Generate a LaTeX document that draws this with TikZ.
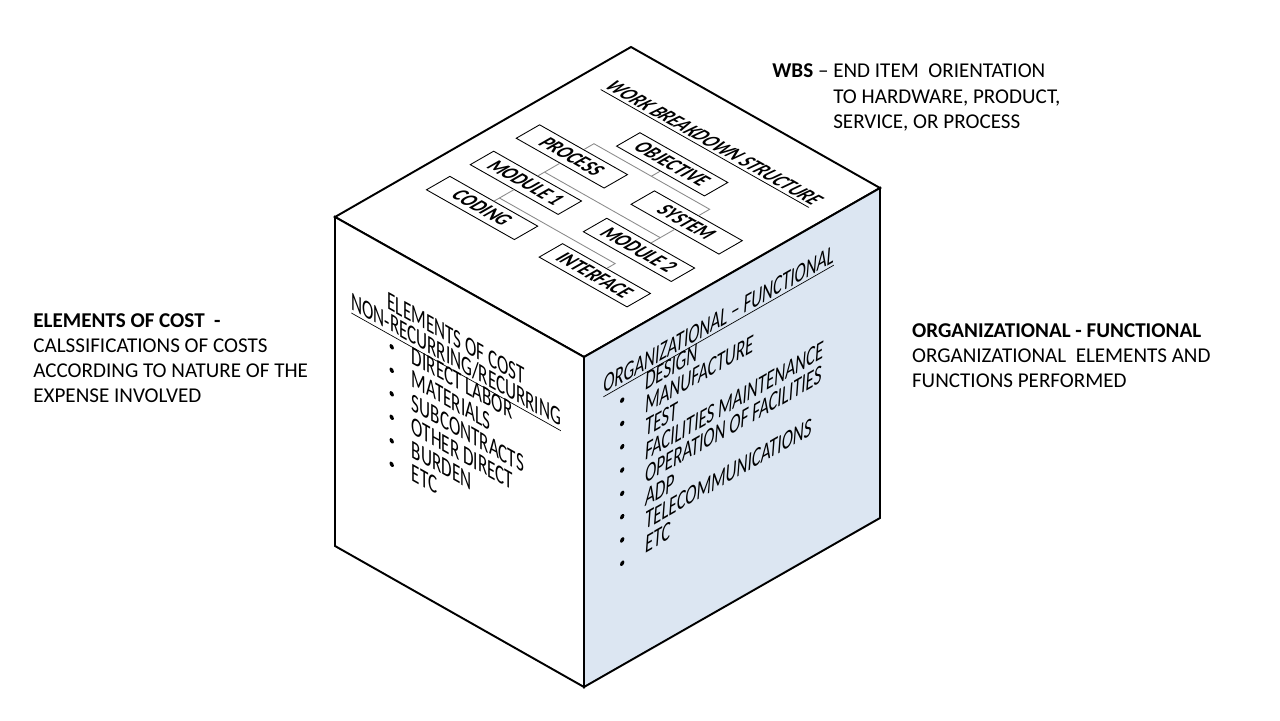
\documentclass[tikz,border=0pt]{standalone}
\usepackage{fontspec}
\setmainfont{Carlito}
\usepackage{xcolor}
\usepackage{tikz}
\usetikzlibrary{positioning}

\definecolor{faceblue}{RGB}{220,230,242}
\definecolor{linkgray}{RGB}{140,140,140}

\begin{document}
\begin{tikzpicture}[x=0.02cm, y=0.02cm,
    cubeedge/.style={line width=1.1pt, line join=miter},
    wbsbox/.style={draw, line width=0.5pt, fill=white, transform shape,
      yscale=1.3, minimum width=2.02cm, minimum height=0.415cm, inner sep=0pt,
      font=\fontsize{10}{12}\selectfont\bfseries},
    wbslink/.style={draw=linkgray, line width=0.5pt},
    facetext/.style={inner sep=0pt, transform shape, xscale=0.82, yscale=1.1,
      font=\fontsize{13.6}{14}\selectfont},
    orgtext/.style={facetext, font=\fontsize{13.6}{14}\selectfont\itshape},
    sidetext/.style={inner sep=0pt, align=left, anchor=north west,
      font=\fontsize{12}{14.2}\selectfont}]

  \useasboundingbox (0,0) rectangle (1280,720);

  \coordinate (T) at (631,673);
  \coordinate (R) at (880,532);
  \coordinate (M) at (584,363);
  \coordinate (L) at (335,503);
  \coordinate (LB) at (335,174);
  \coordinate (MB) at (584,33);
  \coordinate (RB) at (880,202);

  \draw[cubeedge, fill=white] (T) -- (R) -- (M) -- (L) -- cycle;
  \draw[cubeedge, fill=white] (L) -- (M) -- (MB) -- (LB) -- cycle;
  \draw[cubeedge, fill=faceblue] (M) -- (R) -- (RB) -- (MB) -- cycle;

  % top face
  \begin{scope}[cm={0.870,-0.493,0.867,0.498,(T)}]
    \node[inner sep=0pt, anchor=base, transform shape, yscale=1.3,
      font=\fontsize{10}{12}\selectfont\bfseries\itshape] (wbstitle) at (145,-57)
      {\underline{WORK BREAKDOWN STRUCTURE}};

    \node[wbsbox] (objective) at (142,-95) {OBJECTIVE};
    \node[wbsbox] (process) at (76,-144.5) {PROCESS};
    \node[wbsbox] (system) at (209,-145.5) {SYSTEM};
    \node[wbsbox] (module1) at (76,-197.5) {MODULE 1};
    \node[wbsbox] (module2) at (209,-200.5) {MODULE 2};
    \node[wbsbox] (coding) at (76,-248) {CODING};
    \node[wbsbox] (interface) at (209,-251.5) {INTERFACE};

    \coordinate (bus1p) at (76,-119);
    \coordinate (bus1o) at (142,-119);
    \coordinate (bus1s) at (209,-119);
    \coordinate (bus2p) at (76,-176);
    \coordinate (bus2s) at (209,-176);
    \coordinate (bus3p) at (76,-228);
    \coordinate (bus3s) at (209,-228);

    \draw[wbslink] (objective.south) -- (bus1o);
    \draw[wbslink] (process.north) -- (bus1p) -- (bus1s) -- (system.north);
    \draw[wbslink] (process.south) -- (module1.north);
    \draw[wbslink] (system.south) -- (module2.north);
    \draw[wbslink] (bus2p) -- (bus2s);
    \draw[wbslink] (module1.south) -- (coding.north);
    \draw[wbslink] (bus3p) -- (bus3s) -- (interface.north);
  \end{scope}

  % left face
  \begin{scope}[cm={0.872,-0.490,0,1,(L)}]
    \node[facetext, anchor=base] (costhead) at (139,-62) {ELEMENTS OF COST};
    \node[facetext, anchor=base] (costsub) at (139,-83)
      {\underline{NON-RECURRING/RECURRING}};
    \foreach \lbl [count=\i from 0] in {DIRECT LABOR, MATERIALS, SUBCONTRACTS,
        OTHER DIRECT, BURDEN, ETC} {
      \node[facetext, anchor=base west] (cost\i) at (88,{-103-23.5*\i}) {\lbl};
      \fill (65,{-98-23.5*\i}) circle (2.5);
    }
  \end{scope}

  % right face
  \begin{scope}[cm={0.868,0.496,0,1,(M)}]
    \node[orgtext, anchor=base west] (orghead) at (22,-48)
      {\underline{ORGANIZATIONAL -- FUNCTIONAL}};
    \foreach \lbl [count=\i from 0] in {DESIGN, MANUFACTURE, TEST,
        FACILITIES MAINTENANCE, OPERATION OF FACILITIES, ADP,
        TELECOMMUNICATIONS, ETC} {
      \node[orgtext, anchor=base west] (org\i) at (70,{-68-23.3*\i}) {\lbl};
      \fill (44,{-65-23.3*\i}) circle (2.5);
    }
  \end{scope}

  % notes round the cube
  \node[sidetext] (costnote) at (33,406.7)
    {\textbf{ELEMENTS OF COST\ \ -}\\CALSSIFICATIONS OF COSTS\\
     ACCORDING TO NATURE OF THE\\EXPENSE INVOLVED};
  \node[sidetext, font=\fontsize{12}{14.6}\selectfont] (wbsnote) at (772,656.7)
    {\textbf{WBS} -- END ITEM\ \ ORIENTATION\\
     \hphantom{\textbf{WBS} -- }TO HARDWARE,\ PRODUCT,\\
     \hphantom{\textbf{WBS} -- }SERVICE, OR PROCESS};
  \node[sidetext] (orgnote) at (911.7,396.7)
    {\textbf{ORGANIZATIONAL - FUNCTIONAL}\\ORGANIZATIONAL\ \ ELEMENTS AND\\
     FUNCTIONS PERFORMED};
\end{tikzpicture}
\end{document}
